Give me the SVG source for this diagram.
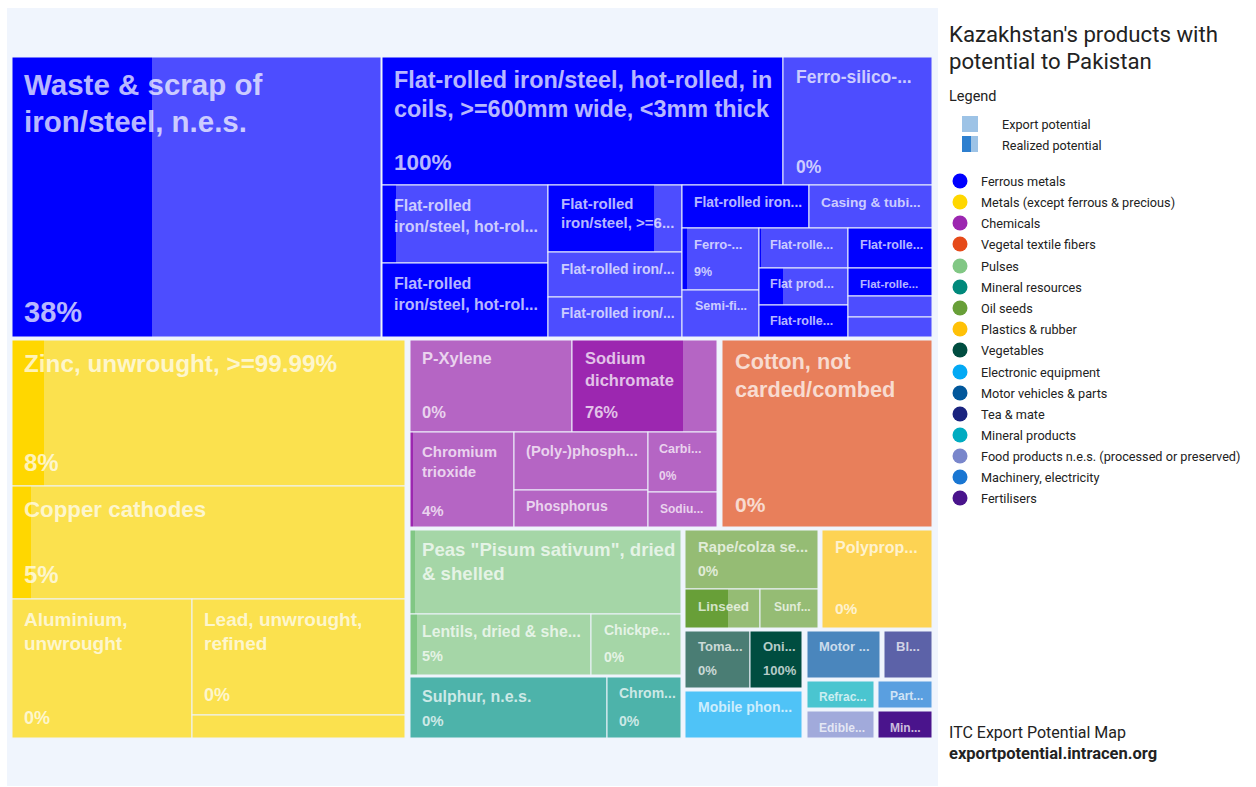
<svg xmlns="http://www.w3.org/2000/svg" width="1256" height="787" viewBox="0 0 1256 787">
<style>
.t{font-family:"Liberation Sans",Arial,sans-serif;font-weight:bold;fill:#fff;fill-opacity:.72}
.b{fill:none;stroke:#eef3fc;stroke-width:1}
.lg{font-family:Roboto,"Liberation Sans",sans-serif;fill:#222}
.fd{fill:#0000ff}.fl{fill:#4d4dff}
.md{fill:#ffd700}.ml{fill:#fbe14e}
.cd{fill:#9c27b0}.cl{fill:#b565c4}
</style>
<rect width="1256" height="787" fill="#ffffff"/>
<rect x="7" y="8" width="931" height="778" fill="#f0f5fd"/>

<g id="treemap">
<!-- Ferrous metals -->
<g id="waste"><rect class="fl" x="12" y="57" width="369" height="280"/><rect class="fd" x="12" y="57" width="140" height="280"/><rect class="b" x="12" y="57" width="369" height="280"/>
<text class="t" x="24" y="95" font-size="29.5">Waste &amp; scrap of</text><text class="t" x="24" y="132" font-size="29.5">iron/steel, n.e.s.</text><text class="t" x="24" y="322" font-size="29">38%</text></g>
<g id="flat-hot-coils"><rect class="fd" x="382" y="57" width="401" height="128"/><rect class="b" x="382" y="57" width="401" height="128"/>
<text class="t" x="394" y="88" font-size="23.4">Flat-rolled iron/steel, hot-rolled, in</text><text class="t" x="394" y="117" font-size="23.4">coils, &gt;=600mm wide, &lt;3mm thick</text><text class="t" x="394" y="170" font-size="22.5">100%</text></g>
<g id="ferro-silico"><rect class="fl" x="783" y="57" width="149" height="128"/><rect class="b" x="783" y="57" width="149" height="128"/>
<text class="t" x="796" y="83" font-size="17.5">Ferro-silico-...</text><text class="t" x="796" y="173" font-size="17.5">0%</text></g>
<g id="flat-a1"><rect class="fl" x="382" y="185" width="166" height="78"/><rect class="fd" x="382" y="185" width="14" height="78"/><rect class="b" x="382" y="185" width="166" height="78"/>
<text class="t" x="394" y="211" font-size="16">Flat-rolled</text><text class="t" x="394" y="232" font-size="16">iron/steel, hot-rol...</text></g>
<g id="flat-a2"><rect class="fd" x="382" y="263" width="166" height="74"/><rect class="b" x="382" y="263" width="166" height="74"/>
<text class="t" x="394" y="289" font-size="16">Flat-rolled</text><text class="t" x="394" y="310" font-size="16">iron/steel, hot-rol...</text></g>
<g id="flat-b1"><rect class="fl" x="548" y="185" width="134" height="67"/><rect class="fd" x="548" y="185" width="106" height="67"/><rect class="b" x="548" y="185" width="134" height="67"/>
<text class="t" x="561" y="209" font-size="15">Flat-rolled</text><text class="t" x="561" y="228" font-size="15">iron/steel, &gt;=6...</text></g>
<g id="flat-b2"><rect class="fl" x="548" y="252" width="134" height="45"/><rect class="b" x="548" y="252" width="134" height="45"/>
<text class="t" x="561" y="274" font-size="14">Flat-rolled iron/...</text></g>
<g id="flat-b3"><rect class="fl" x="548" y="297" width="134" height="40"/><rect class="b" x="548" y="297" width="134" height="40"/>
<text class="t" x="561" y="318" font-size="14">Flat-rolled iron/...</text></g>
<g id="flat-c1"><rect class="fd" x="682" y="185" width="127" height="43"/><rect class="b" x="682" y="185" width="127" height="43"/>
<text class="t" x="694" y="207" font-size="13.8">Flat-rolled iron...</text></g>
<g id="casing"><rect class="fl" x="809" y="185" width="123" height="43"/><rect class="b" x="809" y="185" width="123" height="43"/>
<text class="t" x="821" y="207" font-size="13.7">Casing &amp; tubi...</text></g>
<g id="ferro"><rect class="fl" x="682" y="228" width="77" height="62"/><rect class="fd" x="682" y="228" width="5" height="62"/><rect class="b" x="682" y="228" width="77" height="62"/>
<text class="t" x="694" y="249" font-size="13">Ferro-...</text><text class="t" x="694" y="276" font-size="12.5">9%</text></g>
<g id="semi"><rect class="fl" x="682" y="290" width="77" height="47"/><rect class="b" x="682" y="290" width="77" height="47"/>
<text class="t" x="695" y="310" font-size="12.5">Semi-fi...</text></g>
<g id="flat-d1"><rect class="fl" x="759" y="228" width="89" height="40"/><rect class="fd" x="759" y="228" width="2" height="40"/><rect class="b" x="759" y="228" width="89" height="40"/>
<text class="t" x="770" y="249" font-size="12.5">Flat-rolle...</text></g>
<g id="flat-prod"><rect class="fl" x="759" y="268" width="89" height="37"/><rect class="fd" x="759" y="268" width="24" height="37"/><rect class="b" x="759" y="268" width="89" height="37"/>
<text class="t" x="770" y="288" font-size="12.5">Flat prod...</text></g>
<g id="flat-d2"><rect class="fd" x="759" y="305" width="89" height="32"/><rect class="b" x="759" y="305" width="89" height="32"/>
<text class="t" x="770" y="325" font-size="12.5">Flat-rolle...</text></g>
<g id="flat-e1"><rect class="fd" x="848" y="228" width="84" height="40"/><rect class="b" x="848" y="228" width="84" height="40"/>
<text class="t" x="860" y="249" font-size="12.5">Flat-rolle...</text></g>
<g id="flat-e2"><rect class="fd" x="848" y="268" width="84" height="28"/><rect class="b" x="848" y="268" width="84" height="28"/>
<text class="t" x="860" y="288" font-size="11.5">Flat-rolle...</text></g>
<g id="ferrous-e3"><rect class="fl" x="848" y="296" width="84" height="21"/><rect class="b" x="848" y="296" width="84" height="21"/></g>
<g id="ferrous-e4"><rect class="fl" x="848" y="317" width="84" height="20"/><rect class="b" x="848" y="317" width="84" height="20"/></g>

<!-- Metals -->
<g id="zinc"><rect class="ml" x="12" y="340" width="393" height="146"/><rect class="md" x="12" y="340" width="32" height="146"/><rect class="b" x="12" y="340" width="393" height="146"/>
<text class="t" x="24" y="372" font-size="24.3">Zinc, unwrought, &gt;=99.99%</text><text class="t" x="24" y="471" font-size="24">8%</text></g>
<g id="copper"><rect class="ml" x="12" y="486" width="393" height="113"/><rect class="md" x="12" y="486" width="19" height="113"/><rect class="b" x="12" y="486" width="393" height="113"/>
<text class="t" x="24" y="517" font-size="22.3">Copper cathodes</text><text class="t" x="24" y="583" font-size="24">5%</text></g>
<g id="aluminium"><rect class="ml" x="12" y="599" width="180" height="139"/><rect class="b" x="12" y="599" width="180" height="139"/>
<text class="t" x="24" y="626" font-size="19">Aluminium,</text><text class="t" x="24" y="650" font-size="19">unwrought</text><text class="t" x="24" y="724" font-size="18">0%</text></g>
<g id="lead"><rect class="ml" x="192" y="599" width="213" height="116"/><rect class="b" x="192" y="599" width="213" height="116"/>
<text class="t" x="204" y="626" font-size="19">Lead, unwrought,</text><text class="t" x="204" y="650" font-size="19">refined</text><text class="t" x="204" y="701" font-size="18">0%</text></g>
<g id="metals-small"><rect class="ml" x="192" y="715" width="213" height="23"/><rect class="b" x="192" y="715" width="213" height="23"/></g>

<!-- Chemicals -->
<g id="pxylene"><rect class="cl" x="410" y="340" width="162" height="92"/><rect class="b" x="410" y="340" width="162" height="92"/>
<text class="t" x="422" y="364" font-size="16.5">P-Xylene</text><text class="t" x="422" y="418" font-size="16.5">0%</text></g>
<g id="sodium-dichromate"><rect class="cl" x="572" y="340" width="145" height="92"/><rect class="cd" x="572" y="340" width="111" height="92"/><rect class="b" x="572" y="340" width="145" height="92"/>
<text class="t" x="585" y="364" font-size="16.5">Sodium</text><text class="t" x="585" y="386" font-size="16.5">dichromate</text><text class="t" x="585" y="418" font-size="16.5">76%</text></g>
<g id="chromium-trioxide"><rect class="cl" x="410" y="432" width="104" height="95"/><rect class="cd" x="410" y="432" width="3" height="95"/><rect class="b" x="410" y="432" width="104" height="95"/>
<text class="t" x="422" y="457" font-size="15">Chromium</text><text class="t" x="422" y="477" font-size="15">trioxide</text><text class="t" x="422" y="516" font-size="15">4%</text></g>
<g id="polyphosph"><rect class="cl" x="514" y="432" width="134" height="58"/><rect class="b" x="514" y="432" width="134" height="58"/>
<text class="t" x="526" y="456" font-size="14.8">(Poly-)phosph...</text></g>
<g id="phosphorus"><rect class="cl" x="514" y="490" width="134" height="37"/><rect class="b" x="514" y="490" width="134" height="37"/>
<text class="t" x="526" y="511" font-size="14">Phosphorus</text></g>
<g id="carbi"><rect class="cl" x="648" y="432" width="69" height="60"/><rect class="b" x="648" y="432" width="69" height="60"/>
<text class="t" x="659" y="453" font-size="12.5">Carbi...</text><text class="t" x="659" y="480" font-size="12">0%</text></g>
<g id="sodiu"><rect class="cl" x="648" y="492" width="69" height="35"/><rect class="b" x="648" y="492" width="69" height="35"/>
<text class="t" x="660" y="513" font-size="12">Sodiu...</text></g>

<!-- Vegetal textile fibers -->
<g id="cotton"><rect fill="#e87f5b" x="722" y="340" width="210" height="187"/><rect class="b" x="722" y="340" width="210" height="187"/>
<text class="t" x="735" y="369" font-size="21.7">Cotton, not</text><text class="t" x="735" y="397" font-size="21.7">carded/combed</text><text class="t" x="735" y="512" font-size="21">0%</text></g>

<!-- Pulses -->
<g id="peas"><rect fill="#a5d6a7" x="410" y="530" width="271" height="84"/><rect fill="#81c784" x="410" y="530" width="5" height="84"/><rect class="b" x="410" y="530" width="271" height="84"/>
<text class="t" x="422" y="556" font-size="18.6">Peas "Pisum sativum", dried</text><text class="t" x="422" y="580" font-size="18.6">&amp; shelled</text></g>
<g id="lentils"><rect fill="#a5d6a7" x="410" y="614" width="181" height="61"/><rect fill="#81c784" x="410" y="614" width="7" height="61"/><rect class="b" x="410" y="614" width="181" height="61"/>
<text class="t" x="422" y="637" font-size="15.8">Lentils, dried &amp; she...</text><text class="t" x="422" y="661" font-size="14.5">5%</text></g>
<g id="chickpeas"><rect fill="#a5d6a7" x="591" y="614" width="90" height="61"/><rect class="b" x="591" y="614" width="90" height="61"/>
<text class="t" x="604" y="635" font-size="14">Chickpe...</text><text class="t" x="604" y="662" font-size="14">0%</text></g>

<!-- Mineral resources -->
<g id="sulphur"><rect fill="#4db3aa" x="410" y="677" width="197" height="61"/><rect class="b" x="410" y="677" width="197" height="61"/>
<text class="t" x="422" y="702" font-size="16">Sulphur, n.e.s.</text><text class="t" x="422" y="726" font-size="15">0%</text></g>
<g id="chrom"><rect fill="#4db3aa" x="607" y="677" width="74" height="61"/><rect class="b" x="607" y="677" width="74" height="61"/>
<text class="t" x="619" y="698" font-size="14">Chrom...</text><text class="t" x="619" y="726" font-size="14">0%</text></g>

<!-- Oil seeds -->
<g id="rape"><rect fill="#95bc74" x="685" y="530" width="133" height="59"/><rect class="b" x="685" y="530" width="133" height="59"/>
<text class="t" x="698" y="552" font-size="14.8">Rape/colza se...</text><text class="t" x="698" y="576" font-size="14">0%</text></g>
<g id="linseed"><rect fill="#95bc74" x="685" y="589" width="75" height="39"/><rect fill="#689f38" x="685" y="589" width="43" height="39"/><rect class="b" x="685" y="589" width="75" height="39"/>
<text class="t" x="698" y="611" font-size="13.5">Linseed</text></g>
<g id="sunf"><rect fill="#95bc74" x="760" y="589" width="58" height="39"/><rect class="b" x="760" y="589" width="58" height="39"/>
<text class="t" x="774" y="611" font-size="12">Sunf...</text></g>

<!-- Plastics -->
<g id="polyprop"><rect fill="#fdd353" x="822" y="530" width="110" height="98"/><rect class="b" x="822" y="530" width="110" height="98"/>
<text class="t" x="835" y="553" font-size="16">Polyprop...</text><text class="t" x="835" y="614" font-size="15.5">0%</text></g>

<!-- Vegetables -->
<g id="tomatoes"><rect fill="#4a7d74" x="685" y="631" width="65" height="57"/><rect class="b" x="685" y="631" width="65" height="57"/>
<text class="t" x="698" y="651" font-size="13">Toma...</text><text class="t" x="698" y="675" font-size="13">0%</text></g>
<g id="onions"><rect fill="#004d40" x="750" y="631" width="52" height="57"/><rect class="b" x="750" y="631" width="52" height="57"/>
<text class="t" x="763" y="651" font-size="13">Oni...</text><text class="t" x="763" y="675" font-size="13">100%</text></g>

<!-- Electronic -->
<g id="mobile"><rect fill="#4fc3f7" x="685" y="691" width="117" height="47"/><rect class="b" x="685" y="691" width="117" height="47"/>
<text class="t" x="698" y="712" font-size="14">Mobile phon...</text></g>

<!-- Motor vehicles -->
<g id="motor"><rect fill="#4a86bd" x="807" y="631" width="73" height="47"/><rect class="b" x="807" y="631" width="73" height="47"/>
<text class="t" x="819" y="651" font-size="13">Motor ...</text></g>
<!-- Tea -->
<g id="black-tea"><rect fill="#5c62a8" x="884" y="631" width="48" height="47"/><rect class="b" x="884" y="631" width="48" height="47"/>
<text class="t" x="896" y="651" font-size="13">Bl...</text></g>
<!-- Mineral products -->
<g id="refrac"><rect fill="#4ac5d0" x="807" y="681" width="67" height="27"/><rect class="b" x="807" y="681" width="67" height="27"/>
<text class="t" x="819" y="701" font-size="12">Refrac...</text></g>
<!-- Machinery -->
<g id="parts"><rect fill="#5a9fe0" x="878" y="681" width="54" height="27"/><rect class="b" x="878" y="681" width="54" height="27"/>
<text class="t" x="890" y="700" font-size="12">Part...</text></g>
<!-- Food products -->
<g id="edible"><rect fill="#a1aadb" x="807" y="711" width="67" height="27"/><rect class="b" x="807" y="711" width="67" height="27"/>
<text class="t" x="819" y="732" font-size="12">Edible...</text></g>
<!-- Fertilisers -->
<g id="min"><rect fill="#4a148c" x="878" y="711" width="54" height="27"/><rect class="b" x="878" y="711" width="54" height="27"/>
<text class="t" x="890" y="732" font-size="12">Min...</text></g>
</g>

<g id="connectors"/>

<g id="legend">
<text class="lg" x="949" y="42" font-size="22.2">Kazakhstan's products with</text>
<text class="lg" x="949" y="69" font-size="22.2">potential to Pakistan</text>
<text class="lg" x="949" y="101" font-size="14.5">Legend</text>
<rect x="962" y="116" width="16" height="16" fill="#9dc3e6"/>
<rect x="962" y="136" width="16" height="16" fill="#9dc3e6"/>
<rect x="962" y="136" width="9" height="16" fill="#2d7fcf"/>
<text class="lg" x="1002" y="129" font-size="12.6">Export potential</text>
<text class="lg" x="1002" y="150" font-size="12.6">Realized potential</text>
<g font-size="12.7">
<circle cx="960" cy="181" r="7.5" fill="#0000ff"/><text class="lg" x="981" y="186">Ferrous metals</text>
<circle cx="960" cy="202" r="7.5" fill="#ffd700"/><text class="lg" x="981" y="207">Metals (except ferrous &amp; precious)</text>
<circle cx="960" cy="223" r="7.5" fill="#9c27b0"/><text class="lg" x="981" y="228">Chemicals</text>
<circle cx="960" cy="244" r="7.5" fill="#e64a19"/><text class="lg" x="981" y="249">Vegetal textile fibers</text>
<circle cx="960" cy="266" r="7.5" fill="#81c784"/><text class="lg" x="981" y="271">Pulses</text>
<circle cx="960" cy="287" r="7.5" fill="#00897b"/><text class="lg" x="981" y="292">Mineral resources</text>
<circle cx="960" cy="308" r="7.5" fill="#689f38"/><text class="lg" x="981" y="313">Oil seeds</text>
<circle cx="960" cy="329" r="7.5" fill="#ffc107"/><text class="lg" x="981" y="334">Plastics &amp; rubber</text>
<circle cx="960" cy="350" r="7.5" fill="#004d40"/><text class="lg" x="981" y="355">Vegetables</text>
<circle cx="960" cy="372" r="7.5" fill="#03a9f4"/><text class="lg" x="981" y="377">Electronic equipment</text>
<circle cx="960" cy="393" r="7.5" fill="#01579b"/><text class="lg" x="981" y="398">Motor vehicles &amp; parts</text>
<circle cx="960" cy="414" r="7.5" fill="#1a237e"/><text class="lg" x="981" y="419">Tea &amp; mate</text>
<circle cx="960" cy="435" r="7.5" fill="#00acc1"/><text class="lg" x="981" y="440">Mineral products</text>
<circle cx="960" cy="456" r="7.5" fill="#7986cb"/><text class="lg" x="981" y="461">Food products n.e.s. (processed or preserved)</text>
<circle cx="960" cy="477" r="7.5" fill="#1976d2"/><text class="lg" x="981" y="482">Machinery, electricity</text>
<circle cx="960" cy="498" r="7.5" fill="#4a148c"/><text class="lg" x="981" y="503">Fertilisers</text>
</g>
<text class="lg" x="949" y="738" font-size="16">ITC Export Potential Map</text>
<text class="lg" x="949" y="759" font-size="16.5" font-weight="bold" fill="#111">exportpotential.intracen.org</text>
</g>
</svg>
